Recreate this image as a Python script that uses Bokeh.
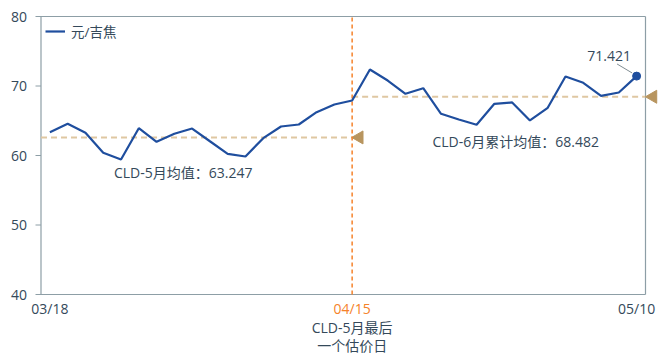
import math
from bokeh.plotting import figure
from bokeh.models import ColumnDataSource, Label, Legend, LegendItem
from bokeh.core.properties import value
from bokeh.embed import file_html
from bokeh.resources import INLINE

# ---- data ----
tick_pos = [0, 17, 33]
tick_text = ["03/18", "04/15", "05/10"]
may_values = [63.35, 64.56, 63.27, 60.39, 59.42, 63.93, 61.97, 63.12, 63.88,
              62.05, 60.24, 59.86, 62.49, 64.17, 64.46, 66.23, 67.34, 67.91]
jun_values = [72.37, 70.79, 68.88, 69.68, 66.00, 65.18, 64.42, 67.44,
              67.63, 65.04, 66.86, 71.37, 70.46, 68.59, 69.06, 71.421]
may_mean_level = 62.6      # level at which the reference draws the May mean line
jun_mean_level = 68.45     # level at which the reference draws the June mean line
y_ticks = [40, 50, 60, 70, 80]
y_tick_text = ["40", "50", "60", "70", "80"]
series_name = "元/吉焦"
may_mean_text = "CLD-5月均值：63.247"
jun_mean_text = "CLD-6月累计均值：68.482"
last_text = "71.421"
cutoff_line1 = "CLD-5月最后"
cutoff_line2 = "一个估价日"

values = may_values + jun_values
xs = list(range(len(values)))
cut_idx = len(may_values) - 1
last_idx = len(values) - 1

BLUE = "#1f4e9e"
TAN = "#dfc7a2"
TRI = "#b8955f"
ORANGE = "#f5822a"
TEXT = "#34495a"
AXIS = "#8d9ea6"
FONT = "'Open Sans', 'Noto Sans CJK SC', sans-serif"

# ---- layout: the frame covers (almost) the whole canvas; axes drawn as glyphs ----
W, H = 668, 356
TOP_PX, BOTTOM_BORDER, RIGHT_BORDER = 16, 2, 6
AXIS_X_PX = 40.5                           # pixel of the y-axis line
PX_PER_Y = 278 / 40.0                      # pixels per y unit (40..80)
PX_PER_X = 604.5 / 34.0                    # pixels per category step
x_lo, x_hi = -0.5, last_idx + 0.5
x_start = x_lo - AXIS_X_PX / PX_PER_X
x_end = x_start + (W - RIGHT_BORDER) / PX_PER_X
y_top = 80 + TOP_PX / PX_PER_Y
y_bottom = 80 - (H - TOP_PX - BOTTOM_BORDER) / PX_PER_Y
frame_h = H - BOTTOM_BORDER

def below(px):
    return 40 - px / PX_PER_Y

def left_of_axis(px):
    return x_lo - px / PX_PER_X

p = figure(width=W, height=H, output_backend="svg", toolbar_location=None,
           x_range=(x_start, x_end), y_range=(y_bottom, y_top),
           min_border_left=0, min_border_right=RIGHT_BORDER, min_border_top=0,
           min_border_bottom=BOTTOM_BORDER)
p.outline_line_color = None
p.xgrid.visible = False
p.ygrid.visible = False
p.xaxis.visible = False
p.yaxis.visible = False
p.background_fill_color = "white"
p.border_fill_color = "white"

# frame box
p.segment(x0=[x_lo, x_lo], y0=[80, 40], x1=[x_hi, x_hi], y1=[80, 40],
          line_color=AXIS, line_width=1.2)
p.segment(x0=[x_hi, x_lo], y0=[40, 40], x1=[x_hi, x_lo], y1=[80, 80],
          line_color=AXIS, line_width=1.2)

# y ticks and labels
p.segment(x0=[left_of_axis(5.5)] * len(y_ticks), y0=y_ticks,
          x1=[x_lo] * len(y_ticks), y1=y_ticks, line_color=AXIS, line_width=1)
p.text(x=[left_of_axis(14)] * len(y_ticks), y=y_ticks, text=y_tick_text,
       text_color=TEXT, text_font=value(FONT), text_font_size="14px",
       text_align="right", text_baseline="middle")

# mean lines
p.segment(x0=[x_lo], y0=[may_mean_level], x1=[cut_idx], y1=[may_mean_level],
          line_color=TAN, line_width=2, line_dash="6 4")
p.segment(x0=[cut_idx], y0=[jun_mean_level], x1=[x_hi], y1=[jun_mean_level],
          line_color=TAN, line_width=2, line_dash="6 4")
p.scatter(x=[cut_idx + 0.4, x_hi + 0.42], y=[may_mean_level, jun_mean_level], marker="triangle",
          size=13, angle=math.pi / 2, fill_color=TRI, line_color=TRI)

# cutoff vertical line
p.segment(x0=[cut_idx], y0=[40], x1=[cut_idx], y1=[80],
          line_color=ORANGE, line_width=1.5, line_dash="4 3")

src = ColumnDataSource(dict(x=xs, y=values))
line_r = p.line(x="x", y="y", source=src, line_color=BLUE, line_width=2.2)
p.scatter(x=[last_idx], y=[values[-1]], size=8, fill_color=BLUE, line_color=BLUE)

# leader line for last value
p.segment(x0=[last_idx - 1.1], y0=[values[-1] + 1.75], x1=[last_idx - 0.25], y1=[values[-1] + 0.45],
          line_color="#7f8c92", line_width=1)

# x tick labels
tick_colors = [ORANGE if t == cut_idx else TEXT for t in tick_pos]
p.text(x=tick_pos, y=[below(14)] * len(tick_pos), text=tick_text, text_color=tick_colors,
       text_font=value(FONT), text_font_size="14px", text_align="center",
       text_baseline="middle")
p.text(x=[cut_idx, cut_idx], y=[below(33), below(51)], text=[cutoff_line1, cutoff_line2],
       text_color=TEXT, text_font=value(FONT), text_font_size="14px", text_align="center",
       text_baseline="middle")

# mean text labels
lab_kw = dict(text_font=FONT, text_font_size="14px", text_align="center", text_baseline="middle")
p.add_layout(Label(x=7.5, y=57.55, text=may_mean_text, text_color=TEXT, **lab_kw))
p.add_layout(Label(x=26.2, y=62.0, text=jun_mean_text, text_color=TEXT, **lab_kw))
p.add_layout(Label(x=last_idx - 1.55, y=values[-1] + 2.95, text=last_text, text_color=TEXT, **lab_kw))

legend_h = 20 + 2 * 6
legend = Legend(items=[LegendItem(label=series_name, renderers=[line_r])],
                location=(45, frame_h - 9 - legend_h), border_line_color=None,
                background_fill_alpha=0, margin=0, padding=6, glyph_width=20,
                glyph_height=20, label_height=20, label_standoff=6,
                label_text_font=FONT, label_text_font_size="13.5px",
                label_text_color=TEXT)
p.add_layout(legend)

open("out.html", "w").write(file_html(p, INLINE))
